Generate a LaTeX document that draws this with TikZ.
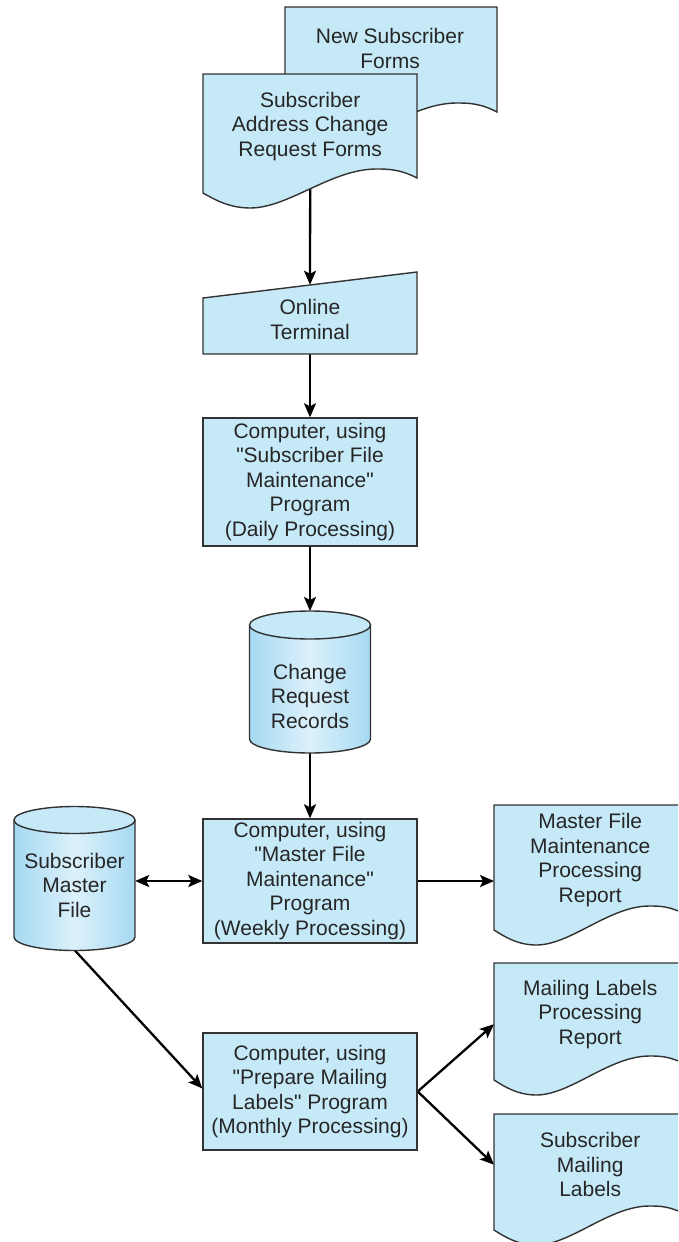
\documentclass[tikz,border=0pt]{standalone}
\usepackage{fontspec}
\setmainfont{Liberation Sans}
\usetikzlibrary{arrows.meta,positioning,calc}

\definecolor{boxblue}{RGB}{198,233,248}
\definecolor{cylside}{RGB}{166,217,242}
\definecolor{cylmid}{RGB}{220,241,251}
\definecolor{edgegray}{RGB}{50,50,50}

\pgfdeclarelayer{bg}
\pgfsetlayers{bg,main}

% straight double quote, past the TeX ligature mapping
\newcommand{\qt}{\XeTeXglyph\XeTeXcharglyph"22 }

\tikzset{
  shapeline/.style={draw=edgegray, line width=1.4pt},
  txt/.style={align=center, font=\fontsize{21}{24.5}\selectfont, text=black!85, inner sep=0pt},
  procbox/.style={txt, shapeline, fill=boxblue, minimum width=214pt},
  flow/.style={line width=2.3pt, ->},
}

% document symbol: left x, top y, width, y of the lower left corner
\newcommand{\docshape}[4]{%
  \draw[shapeline, fill=boxblue] (#1,#2) -- (#1+#3,#2) -- (#1+#3,#4-15)
    .. controls (#1+0.92*#3,#4-24) and (#1+0.86*#3,#4-24) .. (#1+0.81*#3,#4-24)
    .. controls (#1+0.6*#3,#4-24) and (#1+0.4*#3,#4+15) .. (#1+0.22*#3,#4+15)
    .. controls (#1+0.12*#3,#4+15) and (#1+0.05*#3,#4+6) .. (#1,#4) -- cycle;}

% disk symbol: centre x, radius, y of top ellipse, y of bottom ellipse, y radius
\newcommand{\cylshape}[5]{%
  \shade[left color=cylside, right color=cylside, middle color=cylmid]
    (#1-#2,#3) -- (#1-#2,#4) arc[start angle=180, end angle=0, x radius=#2, y radius=#5]
    -- (#1+#2,#3) -- cycle;
  \draw[shapeline] (#1-#2,#3) -- (#1-#2,#4)
    arc[start angle=180, end angle=0, x radius=#2, y radius=#5] -- (#1+#2,#3);
  \draw[shapeline, fill=boxblue] (#1,#3) ellipse[x radius=#2, y radius=#5];}

\begin{document}
\begin{tikzpicture}[x=1pt, y=-1pt, >={Stealth[length=14pt, width=12pt, inset=3pt]}]
\useasboundingbox (0,0) rectangle (678,1242);
\clip (0,0) rectangle (678,1242);

% Input forms
\docshape{285}{7}{212}{127}
\node[txt] (newforms) at (390,48.5) {New Subscriber\\Forms};
\docshape{203}{74}{214}{193}
\node[txt, minimum width=214pt, minimum height=104pt, anchor=north west] (chgforms) at (203,74)
  {Subscriber\\Address Change\\Request Forms};

% Online terminal
\draw[shapeline, fill=boxblue] (203,298) -- (417,272) -- (417,354) -- (203,354) -- cycle;
\node[txt, minimum width=214pt, minimum height=69pt] (term) at (310,319.5) {Online\\Terminal};

% Daily run
\node[procbox, minimum height=128pt] (daily) at (310,482)
  {Computer, using\\\qt Subscriber File\\Maintenance\qt\\Program\\(Daily Processing)};

% Change request records
\cylshape{310}{60.5}{625}{739}{14}
\node[txt, minimum width=121pt, minimum height=114pt] (records) at (310,696) {Change\\Request\\Records};
\coordinate (records top) at (310,611);

% Weekly run
\node[procbox, minimum height=124pt] (weekly) at (310,881)
  {Computer, using\\\qt Master File\\Maintenance\qt\\Program\\(Weekly Processing)};

% Master file
\cylshape{74.5}{60.5}{820}{937}{13.5}
\node[txt, minimum width=121pt, minimum height=104pt] (master) at (74.5,885) {Subscriber\\Master\\File};
\coordinate (master bottom) at (74.5,950);

\docshape{494}{805}{192}{930}
\node[txt, minimum width=192pt, minimum height=110pt, anchor=north west] (mfreport) at (494,805)
  {Master File\\Maintenance\\Processing\\Report};

% Monthly run
\node[procbox, minimum height=117pt] (monthly) at (310,1091.5)
  {Computer, using\\\qt Prepare Mailing\\Labels\qt\ Program\\(Monthly Processing)};

\docshape{494}{963}{192}{1080}
\node[txt, minimum width=192pt, minimum height=102pt, anchor=north west] (mlreport) at (494,963)
  {Mailing Labels\\Processing\\Report};
\docshape{494}{1114}{192}{1230}
\node[txt, minimum width=192pt, minimum height=101pt, anchor=north west] (labels) at (494,1114)
  {Subscriber\\Mailing\\Labels};

% Connectors
\begin{pgfonlayer}{bg}
\draw[flow] (chgforms.south) -- (term.north);
\draw[flow] (term.south) -- (daily.north);
\draw[flow] (daily.south) -- (records top);
\draw[flow] (records.south) -- (weekly.north);
\draw[flow, <->] (master.east |- weekly.west) -- (weekly.west);
\draw[flow] (weekly.east) -- (weekly.east -| mfreport.west);
\draw[flow] (master bottom) -- ([yshift=3pt]monthly.west);
\draw[flow] (monthly.east) -- ([yshift=-10pt]mlreport.west);
\draw[flow] (monthly.east) -- (labels.west);
\end{pgfonlayer}
\end{tikzpicture}
\end{document}
